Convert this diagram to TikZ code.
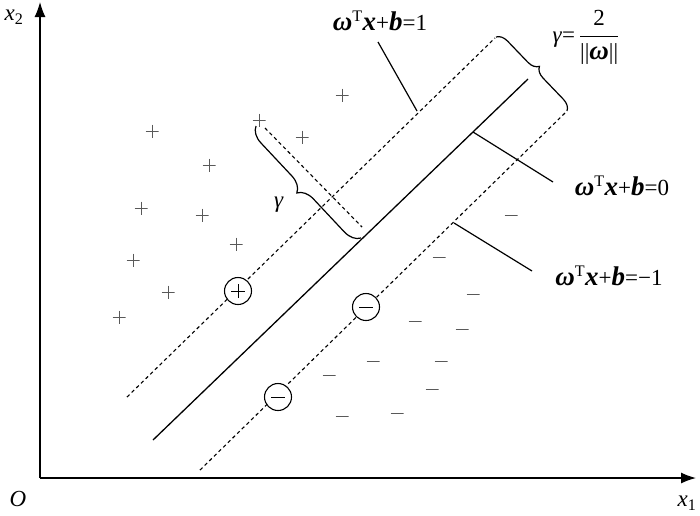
\documentclass[tikz,border=0pt]{standalone}
\usepackage{fontspec}
\setmainfont{Liberation Serif}
\newfontfamily\lserif{Liberation Serif}
\usetikzlibrary{decorations.pathreplacing,arrows.meta}
\newcommand\bsym[1]{{\lserif\fontsize{27}{27}\selectfont\bfseries\itshape #1}}
\tikzset{
  sgn/.style={draw=black!65, line width=0.9pt},
  pl/.style={minimum size=13pt, inner sep=0pt,
    path picture={\draw[sgn] (path picture bounding box.west)--(path picture bounding box.east)
      (path picture bounding box.north)--(path picture bounding box.south);}},
  mi/.style={minimum width=13pt, minimum height=3pt, inner sep=0pt,
    path picture={\draw[sgn] (path picture bounding box.west)--(path picture bounding box.east);}},
  circp/.style={circle, draw, line width=1.1pt, fill=white, minimum size=27pt, inner sep=0pt,
    path picture={\draw[line width=0.9pt] ([xshift=-7pt]path picture bounding box.center)--([xshift=7pt]path picture bounding box.center)
      ([yshift=-7pt]path picture bounding box.center)--([yshift=7pt]path picture bounding box.center);}},
  circm/.style={circle, draw, line width=1.1pt, fill=white, minimum size=27pt, inner sep=0pt,
    path picture={\draw[line width=0.9pt] ([xshift=-7pt]path picture bounding box.center)--([xshift=7pt]path picture bounding box.center);}},
  dline/.style={line width=1.1pt, dash pattern=on 3.5pt off 3pt},
  sline/.style={line width=1.3pt},
  lead/.style={line width=1.2pt},
  axis/.style={line width=1.3pt, -{Latex[length=15pt,width=11pt]}},
  lab/.style={font=\lserif\fontsize{23}{27}\selectfont, inner sep=1pt},
  brc/.style={line width=1.2pt, decorate, decoration={brace, amplitude=#1}},
}
\begin{document}
\begin{tikzpicture}[x=1pt,y=-1pt]
\path[use as bounding box] (0,0) rectangle (700,515);
% axes
\coordinate (O) at (40,478);
\coordinate (xe) at (696,478);
\coordinate (ye) at (40,2);
\draw[axis] (O) -- (xe);
\draw[axis] (O) -- (ye);
\node[lab] (lx2) at (14,17) {\textit{x}\textsubscript{2}};
\node[lab] (lO) at (18,499) {\textit{O}};
\node[lab] (lx1) at (687,503) {\textit{x}\textsubscript{1}};
% lines
\coordinate (U1) at (127,397);
\coordinate (U2) at (495,38);
\coordinate (S1) at (153,440);
\coordinate (S2) at (528,79);
\coordinate (L1) at (200,470);
\coordinate (L2) at (565,113);
\draw[dline] (U1) -- (U2);
\draw[sline] (S1) -- (S2);
\draw[dline] (L1) -- (L2);
% big brace
\coordinate (BA) at (496,37);
\coordinate (BB) at (567,111);
\draw[brc=11pt] (BA) -- (BB);
% small brace and perpendicular
\coordinate (PA) at (265,128);
\coordinate (PB) at (362,227);
\draw[dline] (PA) -- (PB);
\coordinate (SA) at (256,126);
\coordinate (SB) at (361,238);
\draw[brc=16pt] (SB) -- (SA);
\node[lab] (lg) at (279,205) {\textit{γ}};
% formula
\node[lab] (lgam) at (586,37) {\textit{γ}=\,$\displaystyle\frac{\mbox{2}}{\mbox{||\bsym{ω}||}}$};
% leaders and labels
\node[lab] (l1) at (380,21) {\bsym{ω}\textsuperscript{T}\bsym{x}+\bsym{b}=1};
\coordinate (a1) at (378,42);
\coordinate (b1) at (417,111);
\draw[lead] (a1) -- (b1);
\node[lab] (l0) at (622,186) {\bsym{ω}\textsuperscript{T}\bsym{x}+\bsym{b}=0};
\coordinate (a0) at (553,182);
\coordinate (b0) at (473,132);
\draw[lead] (b0) -- (a0);
\node[lab] (lm) at (609,276) {\bsym{ω}\textsuperscript{T}\bsym{x}+\bsym{b}=−1};
\coordinate (am) at (532,271);
\coordinate (bm) at (454,223);
\draw[lead] (bm) -- (am);
% circled points
\node[circp] (c1) at (238,291) {};
\node[circm] (c2) at (366,307) {};
\node[circm] (c3) at (278,397) {};
% plus points
\node[pl] (p1) at (342,95) {};
\node[pl] (p2) at (259,120) {};
\node[pl] (p3) at (302,137) {};
\node[pl] (p4) at (152,131) {};
\node[pl] (p5) at (209,165) {};
\node[pl] (p6) at (141,208) {};
\node[pl] (p7) at (202,215) {};
\node[pl] (p8) at (236,244) {};
\node[pl] (p9) at (133,260) {};
\node[pl] (p10) at (168,292) {};
\node[pl] (p11) at (119,317) {};
% minus points
\node[mi] (m1) at (511,215) {};
\node[mi] (m2) at (439,257) {};
\node[mi] (m3) at (473,294) {};
\node[mi] (m4) at (415,321) {};
\node[mi] (m5) at (462,329) {};
\node[mi] (m6) at (373,361) {};
\node[mi] (m7) at (441,361) {};
\node[mi] (m8) at (329,375) {};
\node[mi] (m9) at (432,389) {};
\node[mi] (m10) at (342,416) {};
\node[mi] (m11) at (397,413) {};
\end{tikzpicture}
\end{document}
